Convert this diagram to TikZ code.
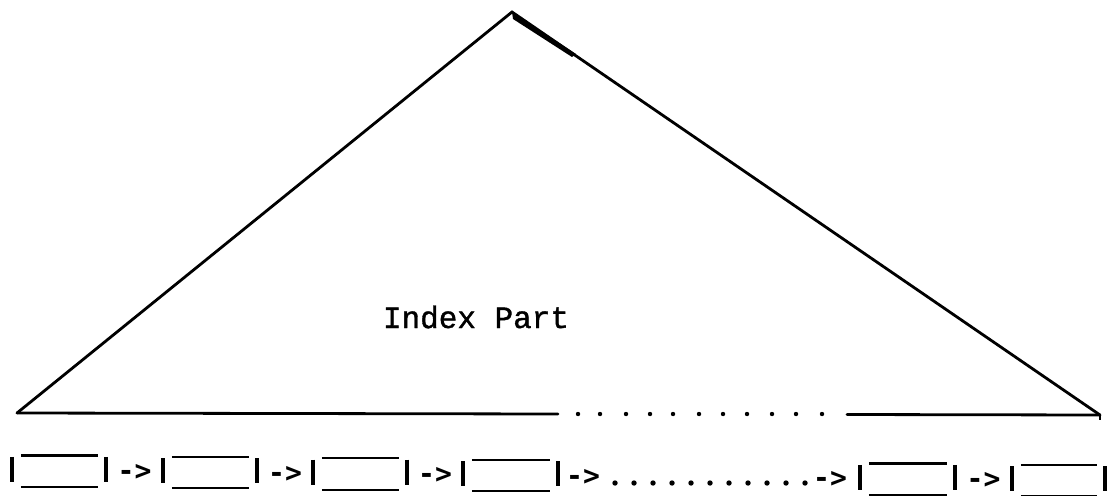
\documentclass[tikz,border=0pt]{standalone}
\usepackage{fontspec}
\newfontfamily\mono[FakeBold=1.2]{Liberation Mono}
\newfontfamily\monoarrow{DejaVu Sans Mono}
\usetikzlibrary{calc}
\begin{document}
\begin{tikzpicture}[x=1pt,y=-1pt,
  edge/.style={line width=2.8pt, line cap=round, line join=miter},
  bar/.style={line width=3.5pt},
  rule/.style={line width=2.2pt},
  cell/.style={inner sep=0pt, minimum height=31pt},
  link/.style={font=\monoarrow\bfseries\fontsize{28}{28}\selectfont, inner sep=0pt, anchor=base},
  label/.style={font=\mono\fontsize{31}{31}\selectfont, inner sep=0pt, anchor=base}]
\useasboundingbox (0,0) rectangle (1107,495);
\clip (0,0) rectangle (1107,495);
% triangle (index part)
\coordinate (apex) at (512,12);
\coordinate (bl) at (17,413);
\coordinate (br) at (1100,415);
\coordinate (bm1) at (558,414);
\coordinate (bm2) at (847,414.5);
\draw[edge] (bl) -- (apex) -- (br);
\fill (apex) -- (576,54) -- (572,57) -- (513,19) -- cycle;
\draw[edge] (bl) -- (bm1);
\draw[edge] (bm2) -- (br);
\draw[line width=2pt] (br) -- ++(0,5);
\foreach \x in {578,600,626,650,673,699,723,747,772,796,822}
  \fill (\x,414) circle (2.2pt);
\node[label] (idx) at (476,328) {Index Part};
% leaf cells
\foreach \n/\l/\r/\t in {c1/12/106/455.6, c2/163/257/457, c3/313/407/458.4,
                         c4/463/558/459.8, c5/860/955/463.6, c6/1012/1105/465}{
  \pgfmathsetmacro\w{\r-\l}
  \node[cell, minimum width=\w pt] (\n) at ({(\l+\r)/2},{\t+15.5}) {};
  \draw[bar] ($(\n.north west)+(0,1.5)$) -- ($(\n.south west)+(0,-5)$);
  \draw[bar] ($(\n.north east)+(0,1.5)$) -- ($(\n.south east)+(0,-5)$);
  \draw[rule] ($(\n.north west)+(9,0)$) -- ($(\n.north east)+(-8,0)$);
  \draw[rule] ($(\n.south west)+(9,0)$) -- ($(\n.south east)+(-8,0)$);
}
% links
\node[link] (a1) at ($(c1.east)!0.5!(c2.west)+(0,9)$) {->};
\node[link] (a2) at ($(c2.east)!0.5!(c3.west)+(0,9)$) {->};
\node[link] (a3) at ($(c3.east)!0.5!(c4.west)+(0,9)$) {->};
\node[link] (a4) at (583,485) {->};
\node[link] (a5) at (830,487) {->};
\node[link] (a6) at ($(c5.east)!0.5!(c6.west)+(0,9)$) {->};
\foreach \i in {0,...,10}
  \fill (615+19*\i,483) circle (2.7pt);
\end{tikzpicture}
\end{document}
